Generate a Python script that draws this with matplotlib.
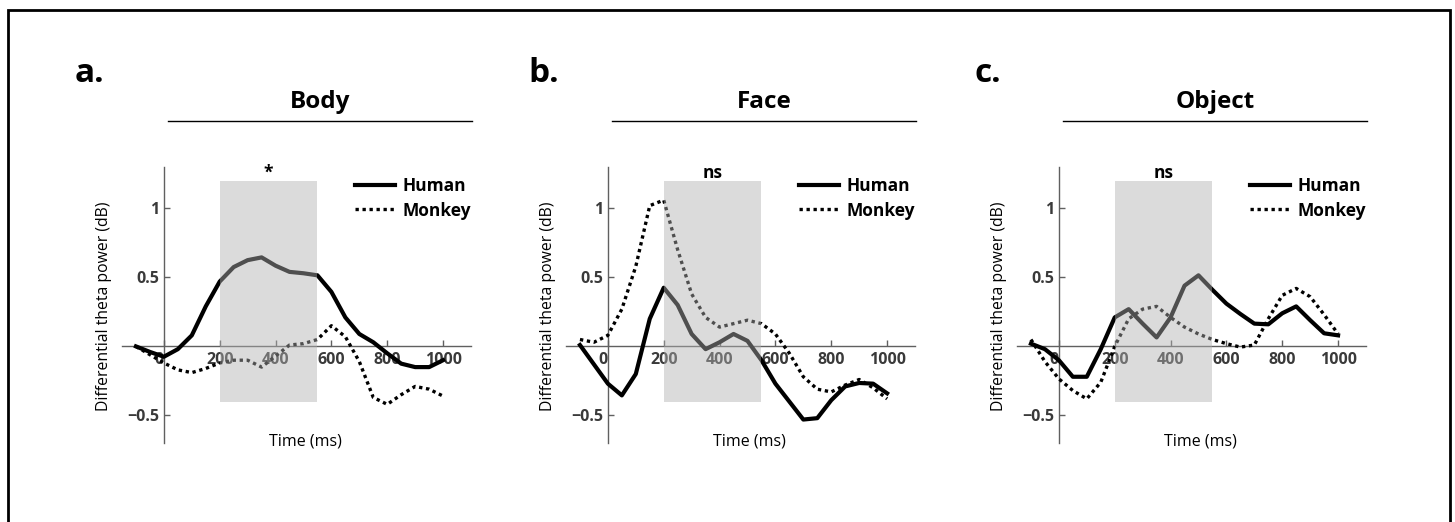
import matplotlib
matplotlib.use("Agg")
import matplotlib.pyplot as plt
from matplotlib.patches import Rectangle
import matplotlib.transforms as mtransforms

plt.rcParams['font.family'] = ['Open Sans', 'DejaVu Sans']

times = [-100, -50, 0, 50, 100, 150, 200, 250, 300, 350, 400, 450, 500,
         550, 600, 650, 700, 750, 800, 850, 900, 950, 1000]

body_human = [0.0, -0.04, -0.075, -0.02, 0.08, 0.29, 0.47, 0.575, 0.625, 0.645, 0.585, 0.54,
              0.53, 0.515, 0.395, 0.21, 0.09, 0.03, -0.05, -0.125, -0.15, -0.15, -0.1]
body_monkey = [0.0, -0.06, -0.12, -0.17, -0.19, -0.16, -0.12, -0.1, -0.1, -0.15, -0.07, 0.01,
               0.02, 0.05, 0.15, 0.07, -0.11, -0.37, -0.42, -0.35, -0.29, -0.31, -0.36]
face_human = [0.01, -0.13, -0.27, -0.355, -0.2, 0.2, 0.425, 0.3, 0.09, -0.02, 0.03, 0.09,
              0.04, -0.1, -0.27, -0.4, -0.53, -0.52, -0.39, -0.29, -0.265, -0.27, -0.34]
face_monkey = [0.05, 0.03, 0.08, 0.27, 0.58, 1.02, 1.06, 0.70, 0.38, 0.21, 0.14, 0.165,
               0.19, 0.165, 0.09, -0.05, -0.22, -0.31, -0.33, -0.28, -0.24, -0.30, -0.38]
object_human = [0.02, -0.02, -0.1, -0.22, -0.22, -0.02, 0.21, 0.27, 0.165, 0.065, 0.21, 0.44,
                0.515, 0.41, 0.31, 0.235, 0.165, 0.16, 0.24, 0.29, 0.19, 0.095, 0.08]
object_monkey = [0.05, -0.11, -0.235, -0.32, -0.38, -0.26, 0.0, 0.2, 0.27, 0.29, 0.21, 0.14,
                 0.09, 0.05, 0.02, -0.005, 0.01, 0.2, 0.37, 0.42, 0.36, 0.23, 0.09]

panels = [("a.", "Body", "*", body_human, body_monkey),
          ("b.", "Face", "ns", face_human, face_monkey),
          ("c.", "Object", "ns", object_human, object_monkey)]

window = (200, 550)
xticks = [0, 200, 400, 600, 800, 1000]
yticks = [-0.5, 0.5, 1]
ytick_labels = ["\u22120.5", "0.5", "1"]

W, H = 1455, 522
fig = plt.figure(figsize=(W / 100, H / 100), dpi=100)

lefts = [122, 566, 1017]
letter_x = [75, 528, 975]
for left, lx, (letter, title, sig, human, monkey) in zip(lefts, letter_x, panels):
    ax = fig.add_axes([left / W, (H - 443) / H, 349 / W, 276 / H])
    ax.set_xlim(-150, 1100)
    ax.set_ylim(-0.7, 1.3)

    ax.plot(times, human, color="black", lw=3, label="Human", zorder=3)
    ax.plot(times, monkey, color="black", lw=2.4, linestyle=(0, (1, 1.1)),
            label="Monkey", zorder=3)
    # translucent grey window drawn over the traces
    ax.fill_between(window, -0.4, 1.2, color="#b0b0b0", alpha=0.45, lw=0, zorder=5)

    for side in ["top", "right"]:
        ax.spines[side].set_visible(False)
    ax.spines["left"].set_position(("data", 0))
    ax.spines["bottom"].set_position(("data", 0))
    for side in ["left", "bottom"]:
        ax.spines[side].set_color("#606060")
        ax.spines[side].set_linewidth(1.0)

    ax.set_xticks(xticks)
    ax.set_yticks(yticks)
    ax.set_yticklabels(ytick_labels)
    ax.tick_params(direction="in", length=4, width=1, color="#606060",
                   labelsize=11.5, labelcolor="#3a3a3a")
    ax.tick_params(axis="x", pad=4)
    ax.tick_params(axis="y", pad=3)
    for lab in ax.get_xticklabels() + ax.get_yticklabels():
        lab.set_fontweight("bold")
    ax.get_xticklabels()[0].set_ha("right")

    ax.text(375, 1.255, sig, ha="center", va="center", fontsize=12.5, fontweight="bold")

    ax.set_xlabel("Time (ms)", fontsize=11.5)
    ax.xaxis.set_label_coords(0.527, 0.035, transform=ax.transAxes)
    ax.xaxis.label.set_va("top")
    ax.set_ylabel("Differential theta power (dB)", fontsize=11.3)
    ax.yaxis.set_label_coords(-0.03, 0.495)

    ax.legend(loc="upper left", bbox_to_anchor=(0.668, 0.962), frameon=False,
              prop={"weight": "bold", "size": 12.5}, handlelength=2.3,
              handletextpad=0.45, labelspacing=0.35, borderpad=0, borderaxespad=0)

    # header: title and rule
    trans = mtransforms.blended_transform_factory(ax.transData, ax.transAxes)
    ax.plot([15, 1105], [1.167, 1.167], color="black", lw=1, transform=trans, clip_on=False)
    ax.text(560, 1.237, title, transform=trans, ha="center", va="center",
            fontsize=17.5, fontweight="bold")

    fig.text(lx / W, 1 - 74 / H, letter, ha="left", va="center",
             fontsize=24, fontweight="bold")

fig.add_artist(Rectangle((8 / W, -0.1), (1450 - 8) / W, 1.1 - 10 / H,
                         transform=fig.transFigure, fill=False, lw=2, edgecolor="black"))

fig.savefig("out.png", dpi=100)
